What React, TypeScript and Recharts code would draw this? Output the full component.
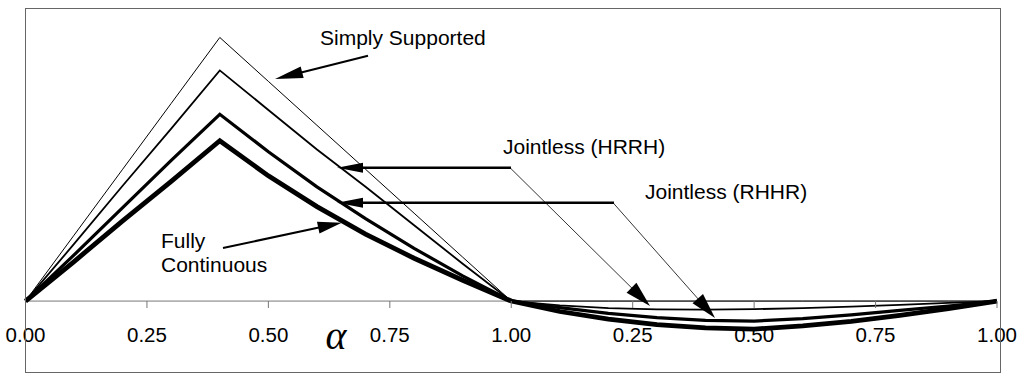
import React from 'react';
import { LineChart, Line, XAxis, YAxis, ReferenceLine } from 'recharts';

// position along the two spans (0..1 first span, 1..2 second span)
const positions = [0, 0.1, 0.2, 0.3, 0.4, 0.5, 0.6, 0.7, 0.8, 0.9, 1.0, 1.1, 1.2, 1.3, 1.4, 1.5, 1.6, 1.7, 1.8, 1.9, 2.0];

const simplySupported = [0, 0.06, 0.12, 0.18, 0.24, 0.2, 0.16, 0.12, 0.08, 0.04, 0, 0, 0, 0, 0, 0, 0, 0, 0, 0, 0];
const jointlessHRRH = [0, 0.052, 0.105, 0.157, 0.21, 0.174, 0.138, 0.104, 0.069, 0.034, 0, -0.004, -0.0065, -0.0076, -0.0078, -0.0074, -0.0064, -0.005, -0.0034, -0.0017, 0];
const jointlessRHHR = [0, 0.042, 0.085, 0.128, 0.17, 0.136, 0.104, 0.075, 0.048, 0.023, 0, -0.006, -0.0112, -0.015, -0.0175, -0.0182, -0.016, -0.0125, -0.0085, -0.0045, 0];
const fullyContinuous = [0, 0.036, 0.073, 0.109, 0.146, 0.114, 0.086, 0.061, 0.039, 0.019, 0, -0.0095, -0.0165, -0.0215, -0.0245, -0.0255, -0.0225, -0.0185, -0.013, -0.0068, 0];

const tickValues = [0, 0.25, 0.5, 0.75, 1, 1.25, 1.5, 1.75, 2];
const tickLabels = ['0.00', '0.25', '0.50', '0.75', '1.00', '0.25', '0.50', '0.75', '1.00'];

const rows = positions.map((x, i) => ({
  x,
  simply: simplySupported[i],
  hrrh: jointlessHRRH[i],
  rhhr: jointlessRHHR[i],
  fully: fullyContinuous[i],
}));

const FONT = "Arial, 'Liberation Sans', sans-serif";
const AXIS_Y = 301;

const AxisTick = (props: any) => {
  const { x, payload } = props;
  const idx = tickValues.indexOf(payload.value);
  return (
    <g>
      <line x1={x} x2={x} y1={AXIS_Y} y2={AXIS_Y + 7} stroke="#777" strokeWidth={1} />
      <text x={x} y={342} textAnchor="middle" fontFamily={FONT} fontSize={20.5} fill="#000">
        {tickLabels[idx]}
      </text>
    </g>
  );
};

// filled arrow head plus shaft
const Arrow = ({ x1, y1, x2, y2, w = 2, head = 26, half = 5 }: any) => {
  const dx = x2 - x1;
  const dy = y2 - y1;
  const len = Math.sqrt(dx * dx + dy * dy);
  const ux = dx / len;
  const uy = dy / len;
  const bx = x2 - ux * head;
  const by = y2 - uy * head;
  const pts = `${x2},${y2} ${bx - uy * half},${by + ux * half} ${bx + uy * half},${by - ux * half}`;
  return (
    <g>
      <line x1={x1} y1={y1} x2={bx + ux * 2} y2={by + uy * 2} stroke="#000" strokeWidth={w} />
      <polygon points={pts} fill="#000" />
    </g>
  );
};

export default function App() {
  return (
    <div style={{ position: 'absolute', left: 0, top: 0, width: 1021, height: 374, background: '#fff' }}>
      <LineChart
        width={1021}
        height={374}
        data={rows}
        margin={{ top: 10, right: 24, bottom: 0, left: 25.5 }}
      >
        <XAxis
          dataKey="x"
          type="number"
          domain={[0, 2]}
          ticks={tickValues}
          axisLine={false}
          tickLine={false}
          tick={<AxisTick />}
          height={29}
          interval={0}
        />
        <YAxis hide type="number" domain={[-0.04, 0.265]} />
        <ReferenceLine y={0} stroke="#777" strokeWidth={1} />
        <Line dataKey="simply" type="linear" stroke="#000" strokeWidth={1} dot={false} isAnimationActive={false} />
        <Line dataKey="hrrh" type="linear" stroke="#000" strokeWidth={1.8} dot={false} isAnimationActive={false} />
        <Line dataKey="rhhr" type="linear" stroke="#000" strokeWidth={3.2} dot={false} isAnimationActive={false} />
        <Line dataKey="fully" type="linear" stroke="#000" strokeWidth={4.8} dot={false} isAnimationActive={false} />
      </LineChart>
      <svg
        width={1021}
        height={374}
        style={{ position: 'absolute', left: 0, top: 0, pointerEvents: 'none' }}
      >
        <rect x={25.5} y={8.5} width={975} height={364} fill="none" stroke="#666" strokeWidth={1} />

        <text x={320} y={45} fontFamily={FONT} fontSize={21} fill="#000">Simply Supported</text>
        <Arrow x1={368} y1={55.7} x2={275} y2={79} w={2} head={28} half={6} />

        <text x={503} y={154} fontFamily={FONT} fontSize={21} fill="#000">Jointless (HRRH)</text>
        <Arrow x1={511} y1={167.7} x2={337} y2={167.7} w={2.5} head={26} half={5} />
        <Arrow x1={510} y1={167.7} x2={650} y2={306} w={0.8} head={26} half={7} />

        <text x={645} y={199} fontFamily={FONT} fontSize={21} fill="#000">Jointless (RHHR)</text>
        <Arrow x1={614} y1={202.7} x2={337} y2={202.7} w={2.5} head={26} half={5} />
        <Arrow x1={613} y1={202.7} x2={715} y2={318} w={0.8} head={26} half={7} />

        <text x={161} y={248} fontFamily={FONT} fontSize={21} fill="#000">Fully</text>
        <text x={161} y={271.5} fontFamily={FONT} fontSize={21} fill="#000">Continuous</text>
        <Arrow x1={223} y1={248} x2={341.7} y2={222.7} w={2} head={24} half={6} />

        <text
          x={336}
          y={349}
          textAnchor="middle"
          fontFamily="'Liberation Serif', 'DejaVu Serif', serif"
          fontStyle="italic"
          fontSize={40}
          fill="#000"
        >
          α
        </text>
      </svg>
    </div>
  );
}
